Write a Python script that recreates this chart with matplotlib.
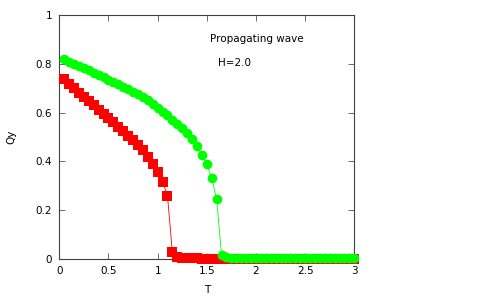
import numpy as np
import matplotlib
matplotlib.use("Agg")
import matplotlib.pyplot as plt
from matplotlib.ticker import FuncFormatter

# temperatures (step 0.05 from 0.05 to 3.0)
T = np.round(np.arange(1, 61) * 0.05, 2)

# red squares
qy_red_head = [0.737, 0.718, 0.699, 0.681, 0.664, 0.647, 0.630, 0.612, 0.595, 0.578,
               0.560, 0.542, 0.524, 0.506, 0.487, 0.467, 0.446, 0.418, 0.390, 0.357,
               0.317, 0.260, 0.029, 0.010, 0.007, 0.005, 0.004, 0.004, 0.003, 0.003]
qy_red_tail = [0.003, 0.003, 0.002, 0.002, 0.002, 0.002, 0.002, 0.002, 0.002, 0.002,
               0.002, 0.002, 0.001, 0.001, 0.001, 0.001, 0.001, 0.001, 0.001, 0.001,
               0.001, 0.001, 0.001, 0.001, 0.001, 0.001, 0.001, 0.001, 0.001, 0.001]
qy_red = qy_red_head + qy_red_tail

# green circles
qy_green_head = [0.818, 0.808, 0.799, 0.790, 0.781, 0.772, 0.763, 0.754, 0.745, 0.735,
                 0.726, 0.716, 0.706, 0.696, 0.685, 0.674, 0.663, 0.650, 0.636, 0.620,
                 0.604, 0.588, 0.571, 0.553, 0.536, 0.515, 0.491, 0.462, 0.428, 0.388,
                 0.332, 0.245, 0.018, 0.008, 0.006]
qy_green_tail = [0.005, 0.005, 0.005, 0.004, 0.004, 0.004, 0.004, 0.004, 0.004, 0.004,
                 0.004, 0.004, 0.004, 0.004, 0.004, 0.004, 0.004, 0.004, 0.004, 0.004,
                 0.004, 0.004, 0.004, 0.004, 0.004]
qy_green = qy_green_head + qy_green_tail

fig = plt.figure(figsize=(5, 3), dpi=100)
ax = fig.add_axes([0.1186, 0.1357, 0.59, 0.8153])

ax.plot(T, qy_red, color="#ff0000", lw=0.6, marker="s", ms=6.6, mew=0, zorder=3, clip_on=False)
ax.plot(T, qy_green, color="#00ff00", lw=0.6, marker="o", ms=7.0, mew=0, zorder=4, clip_on=False)

ax.set_xlim(0, 3)
ax.set_ylim(0, 1)
ax.set_xticks([0, 0.5, 1, 1.5, 2, 2.5, 3])
ax.set_yticks([0, 0.2, 0.4, 0.6, 0.8, 1])
fmt = FuncFormatter(lambda v, p: "%g" % v)
ax.xaxis.set_major_formatter(fmt)
ax.yaxis.set_major_formatter(fmt)
ax.tick_params(direction="in", length=4, width=0.6, top=True, right=True,
               labelsize=7.5, color="#555555", pad=5)
for s in ax.spines.values():
    s.set_linewidth(0.8)
    s.set_color("#404040")

ax.set_xlabel("T", fontsize=7.5, labelpad=6)
ax.set_ylabel("Qy", fontsize=7.5, labelpad=14)

ax.text(2.01, 0.90, "Propagating wave", fontsize=7.5, ha="center", va="center")
ax.text(1.777, 0.803, "H=2.0", fontsize=7.5, ha="center", va="center")

fig.savefig("out.png", dpi=100)
